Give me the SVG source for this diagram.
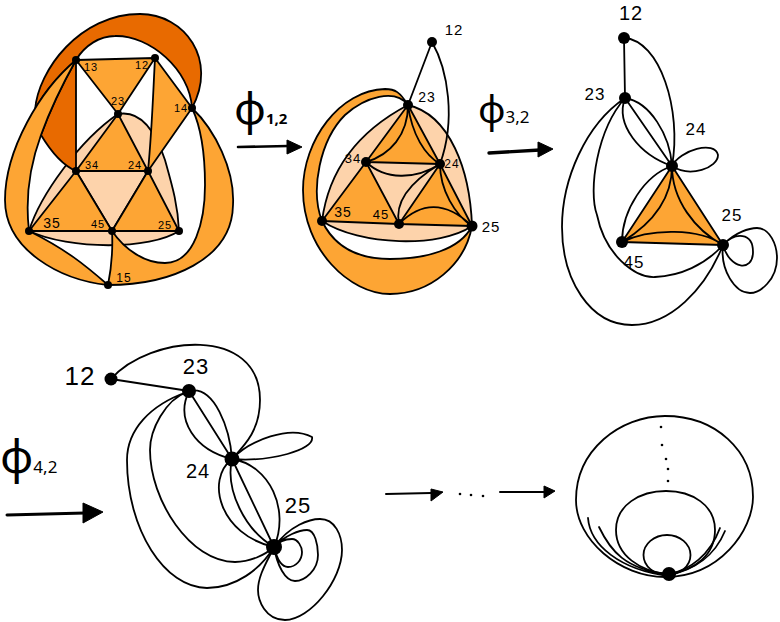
<svg xmlns="http://www.w3.org/2000/svg" width="780" height="622" viewBox="0 0 780 622">
<style>
.l{fill:none;stroke:#000;stroke-width:1.8;stroke-linecap:round;stroke-linejoin:round}
.o{fill:#fda534;stroke:#000;stroke-width:1.8;stroke-linejoin:round}
.d{fill:#e86a00;stroke:#000;stroke-width:1.8;stroke-linejoin:round}
.p{fill:#fdd3ab;stroke:#000;stroke-width:1.8;stroke-linejoin:round}
.a{fill:#000;stroke:#000;stroke-width:1;stroke-linejoin:round}
.s{fill:none;stroke:#000;stroke-width:2.6;stroke-linecap:round}
text{font-family:"Liberation Sans",sans-serif;fill:#000;text-anchor:middle;letter-spacing:1px}
.f{font-family:"Noto Sans",sans-serif;text-anchor:start;letter-spacing:0}
</style>

<g id="faces-1">
<path class="p" d="M118,114C140,110 155,130 165,160C172,185 178,205 179,231C150,250 70,250 29,231C40,195 80,140 118,114Z"/>
<path class="p" d="M76,171L148,171L112,231Z"/>
<path class="d" d="M35,110C38,70 80,14 140,14C185,14 218,60 192,108C190,70 150,35 115,36C100,36 85,45 76,60C60,75 45,90 35,110Z"/>
<path class="d" d="M76,60C62,85 50,110 41,135C50,150 62,165 76,171Z"/>
<path class="o" d="M76,60C40,90 5,150 5,200C5,250 60,280 108,285C85,265 67,250 29,231C25,197 30,165 41,135C50,110 62,85 76,60Z"/>
<path class="o" d="M192,108C215,130 235,170 233,205C232,260 170,285 108,285C112,265 113,250 112,231C125,250 145,263 165,263C195,263 205,220 205,185C205,150 200,125 192,108Z"/>
<path class="o" d="M76,60L155,58L118,114Z"/>
<path class="o" d="M155,58L192,108L148,171C152,130 153,95 155,58Z"/>
<path class="o" d="M118,114L76,171L148,171Z"/>
<path class="o" d="M76,171L29,231L112,231Z"/>
<path class="o" d="M148,171L112,231L179,231Z"/>
</g>
<g id="faces-2">
<path class="o" d="M408,105C400,92 395,89 385,89C340,90 303,140 303,190C303,250 350,294 390,294C430,294 465,265 472,226C460,250 425,259 390,259C360,259 335,248 322,221C310,190 320,140 345,115C365,97 395,88 408,105Z"/>
<path class="p" d="M408,105C450,115 470,170 472,226C440,248 360,246 322,221C330,160 370,125 408,105Z"/>
<path class="o" d="M408,105L366,162L440,164Z"/>
<path class="o" d="M366,162L322,221L399,224Z"/>
<path class="o" d="M440,164L399,224L472,226Z"/>
</g>
<g id="faces-3">
<path class="o" d="M672,166L622,242L723,245Z"/>
</g>

<g id="connectors">
<path class="l" d="M432,42L408,105M432,42C448,70 456,120 440,164"/>
<path class="l" d="M408,105C408,135 390,155 366,162M408,105C412,135 425,155 440,164M440,164C440,190 455,215 472,226M366,162C385,180 415,180 440,164M440,164C405,185 395,205 399,224M399,224C425,198 450,205 472,226"/>
<path class="l" d="M624,38L625,98M624,38C660,40 682,110 672,166M625,98L672,166M625,98C650,102 670,135 672,166M625,98C615,125 640,155 672,166"/>
<path class="l" d="M672,166C680,150 715,140 718,155C718,168 690,178 672,166M672,166C645,175 622,210 622,242M672,166C672,200 650,225 622,242M672,166C672,200 695,230 723,245M622,242C650,228 700,228 723,245"/>
<path class="l" d="M625,98C597,130 588,190 597,215C605,255 635,278 655,277C680,276 705,265 723,245M625,98C585,125 562,180 562,227C562,280 590,325 632,325C670,325 705,290 723,245"/>
<path class="l" d="M723,245C735,232 753,232 753,252C753,272 730,270 723,245M723,245C735,232 750,228 757,228C770,228 777,245 777,258C777,280 760,293 750,293C735,293 720,270 723,245"/>
<path class="l" d="M111,379C150,335 260,325 260,400C260,430 245,445 232,459M111,379L189,391L232,459M189,391C215,385 230,430 232,459M189,391C175,420 195,450 232,459"/>
<path class="l" d="M232,459C250,440 290,425 312,437C315,450 270,462 232,459M232,459L274,547M232,459C270,465 290,510 274,547M232,459C205,480 220,535 274,547M232,459C225,490 245,530 274,547"/>
<path class="l" d="M187,392C150,405 127,430 127,460C127,530 165,588 207,588C235,588 260,570 274,547M187,392C165,400 150,430 150,450C150,500 190,562 235,562C250,562 265,555 274,547"/>
<path class="l" d="M274,547C280,540 288,539 292,539C298,539 302,547 302,552C302,560 296,567 288,567C280,567 276,555 274,547M274,547C285,535 300,530 307,530C315,530 318,545 318,555C318,570 305,581 295,581C285,581 277,565 274,547M274,547C290,525 310,519 320,519C335,519 342,535 342,550C342,580 310,620 285,620C265,620 258,600 258,590C258,575 268,560 274,547"/>
<path class="l" d="M665,416C715,416 753,450 753,497C753,530 720,577 665,577C620,577 576,540 576,500C576,450 620,416 665,416Z"/>
<path class="l" d="M669,574C640,572 616,555 616,530C616,505 640,491 666,491C692,491 715,505 715,530C715,555 695,570 669,574"/>
<ellipse class="l" cx="667" cy="555" rx="23.5" ry="20"/>
<path class="l" d="M588,518C590,545 620,570 669,576M599,527C610,550 625,570 669,574M720,528C710,555 690,570 669,574M725,531C715,555 695,570 669,575"/>
</g>

<g id="arrows">
<path class="s" d="M238,147L288,146"/><path class="a" d="M287,140L302,147L287,154Z"/>
<path class="s" d="M489,153L540,150" style="stroke-width:3.4"/><path class="a" d="M538,142L553,149L538,157Z"/>
<path class="s" d="M7,515L85,513" style="stroke-width:3"/><path class="a" d="M83,503L103,512L83,523Z"/>
<path class="s" d="M386,494L431,493" style="stroke-width:2"/><path class="a" d="M431,489L443,492L431,501Z"/>
<path class="s" d="M500,492L544,492" style="stroke-width:2"/><path class="a" d="M544,486L555,491L544,498Z"/>
</g>

<g id="dots" fill="#000">
<circle cx="460" cy="494" r="1.3"/><circle cx="471" cy="495" r="1.3"/><circle cx="483" cy="496" r="1.3"/>
<circle cx="661" cy="427" r="1.3"/><circle cx="662" cy="445" r="1.3"/><circle cx="666" cy="459" r="1.3"/><circle cx="668" cy="469" r="1.3"/><circle cx="668" cy="481" r="1.3"/>
</g>

<g id="phi-1-2"><text class="f" x="234" y="124" font-size="44">ϕ<tspan font-size="15" font-weight="bold">1,2</tspan></text></g>
<g id="phi-3-2"><text class="f" x="478" y="123" font-size="38">ϕ<tspan font-size="17">3,2</tspan></text></g>
<g id="phi-4-2"><text class="f" x="0" y="473" font-size="46">ϕ<tspan font-size="17">4,2</tspan></text></g>

<g id="n1-13"><circle cx="76" cy="60" r="4"/><text x="91" y="71" font-size="11">13</text></g>
<g id="n1-12"><circle cx="155" cy="58" r="4"/><text x="142" y="69" font-size="11">12</text></g>
<g id="n1-23"><circle cx="118" cy="114" r="4"/><text x="118" y="105" font-size="11">23</text></g>
<g id="n1-14"><circle cx="192" cy="108" r="4"/><text x="181" y="112" font-size="11">14</text></g>
<g id="n1-34"><circle cx="76" cy="171" r="4"/><text x="92" y="169" font-size="11">34</text></g>
<g id="n1-24"><circle cx="148" cy="171" r="4"/><text x="135" y="169" font-size="11">24</text></g>
<g id="n1-35"><circle cx="29" cy="231" r="4"/><text x="52" y="228" font-size="14">35</text></g>
<g id="n1-45"><circle cx="112" cy="231" r="4"/><text x="98" y="228" font-size="11">45</text></g>
<g id="n1-25"><circle cx="179" cy="231" r="4"/><text x="165" y="229" font-size="11">25</text></g>
<g id="n1-15"><circle cx="108" cy="285" r="4"/><text x="124" y="282" font-size="12">15</text></g>

<g id="n2-12"><circle cx="432" cy="42" r="5"/><text x="454" y="35" font-size="15">12</text></g>
<g id="n2-23"><circle cx="408" cy="105" r="5"/><text x="427" y="102" font-size="14">23</text></g>
<g id="n2-34"><circle cx="366" cy="162" r="5"/><text x="353" y="163" font-size="13">34</text></g>
<g id="n2-24"><circle cx="440" cy="164" r="5"/><text x="452" y="168" font-size="12">24</text></g>
<g id="n2-35"><circle cx="322" cy="221" r="5"/><text x="343" y="217" font-size="14">35</text></g>
<g id="n2-45"><circle cx="399" cy="224" r="5"/><text x="381" y="219" font-size="13">45</text></g>
<g id="n2-25"><circle cx="472" cy="226" r="5.5"/><text x="491" y="232" font-size="15">25</text></g>

<g id="n3-12"><circle cx="624" cy="38" r="6"/><text x="631" y="20" font-size="20">12</text></g>
<g id="n3-23"><circle cx="625" cy="98" r="6"/><text x="595" y="100" font-size="17">23</text></g>
<g id="n3-24"><circle cx="672" cy="166" r="6"/><text x="696" y="135" font-size="17">24</text></g>
<g id="n3-45"><circle cx="622" cy="242" r="6"/><text x="634" y="268" font-size="17">45</text></g>
<g id="n3-25"><circle cx="723" cy="245" r="6"/><text x="732" y="221" font-size="17">25</text></g>

<g id="n4-12"><circle cx="111" cy="379" r="6.5"/><text x="80" y="385" font-size="26">12</text></g>
<g id="n4-23"><circle cx="189" cy="391" r="7"/><text x="196" y="374" font-size="22">23</text></g>
<g id="n4-24"><circle cx="232" cy="459" r="7.5"/><text x="198" y="478" font-size="20">24</text></g>
<g id="n4-25"><circle cx="274" cy="547" r="8"/><text x="298" y="513" font-size="22">25</text></g>

<g id="n5"><circle cx="669" cy="574" r="7"/></g>
</svg>
